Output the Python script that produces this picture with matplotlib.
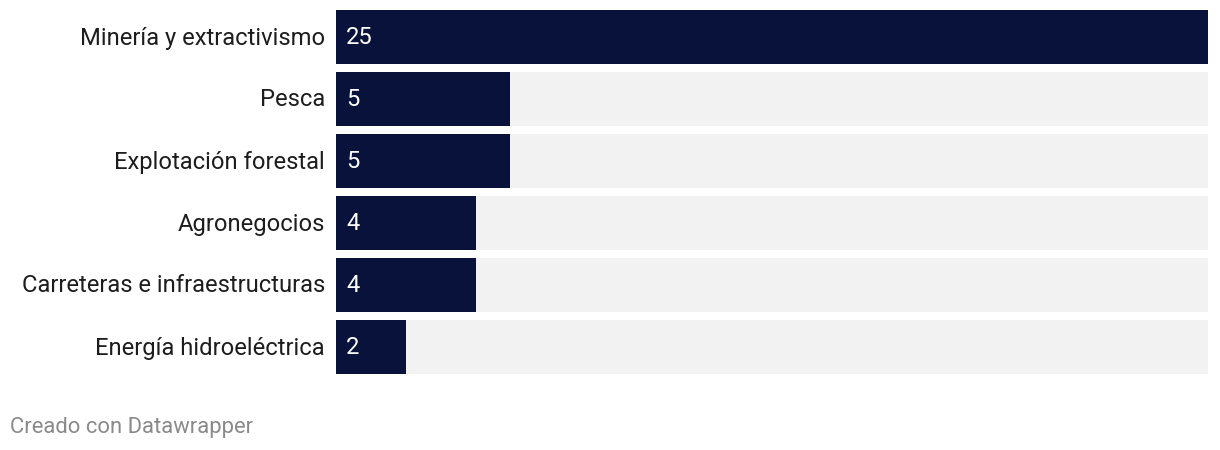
import matplotlib
matplotlib.use("Agg")
import matplotlib.pyplot as plt

categories = ["Minería y extractivismo", "Pesca", "Explotación forestal",
              "Agronegocios", "Carreteras e infraestructuras", "Energía hidroeléctrica"]
values = [25, 5, 5, 4, 4, 2]
max_value = 25

plt.rcParams['font.family'] = ['Roboto', 'DejaVu Sans']

W, H = 1220, 450
fig = plt.figure(figsize=(W / 100, H / 100), dpi=100)
ax = fig.add_axes([336 / W, 1 - 374 / H, (1208 - 336) / W, 364 / H])

bar_h = 54 / 62
pos = list(range(len(categories)))
ax.barh(pos, [max_value] * len(values), height=bar_h, color="#f2f2f2", left=0)
ax.barh(pos, values, height=bar_h, color="#09123a", left=0)

ax.set_xlim(0, max_value)
ax.set_ylim(len(categories) - 1 + bar_h / 2, -bar_h / 2)
ax.axis("off")

for i, (c, v) in enumerate(zip(categories, values)):
    ax.annotate(c, xy=(0, i), xytext=(-11, -1), textcoords="offset pixels",
                ha="right", va="center", fontsize=17.1, color="#1d1d1d")
    ax.annotate(str(v), xy=(0, i), xytext=(10, -1), textcoords="offset pixels",
                ha="left", va="center", fontsize=17.1, color="white")

fig.text(10 / W, 1 - 427 / H, "Creado con Datawrapper", ha="left", va="center",
         fontsize=15.8, color="#8a8a8a")

fig.savefig("out.png", dpi=100, facecolor="white")
